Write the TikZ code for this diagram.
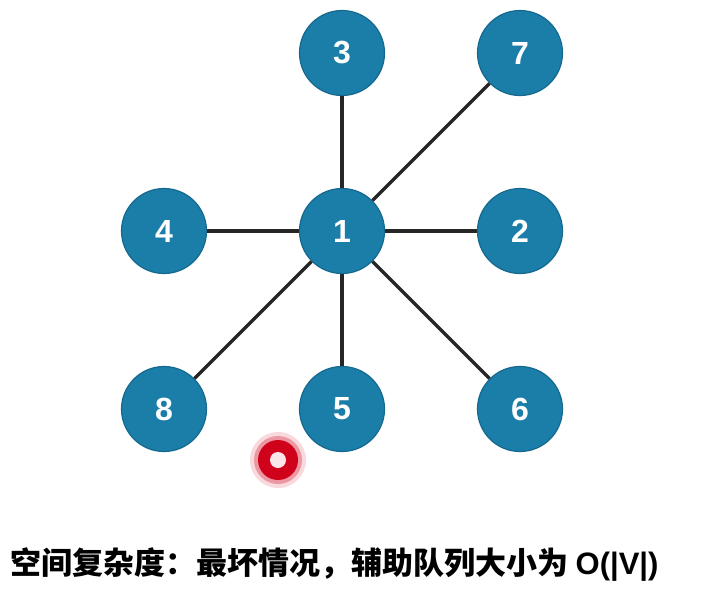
\documentclass[tikz,border=0pt]{standalone}
\usepackage{fontspec}
\setmainfont{Liberation Sans}
\newfontfamily\cjk{Noto Sans CJK SC}
\definecolor{nodeblue}{HTML}{1A7EA9}
\definecolor{nodeedge}{HTML}{15688E}
\definecolor{markred}{HTML}{D0021B}

\begin{document}
\begin{tikzpicture}[x=1pt,y=-1pt,-,node distance=178pt,line width=3.2pt,main node/.style={circle,fill=nodeblue,draw=nodeedge,line width=1.2pt,minimum size=85pt,inner sep=0pt,text=white,font=\fontsize{32}{32}\selectfont\bfseries}]
                \useasboundingbox (0,0) rectangle (715,595);
                \node[main node] (1) at (342,231) {1};
                \node[main node] (3) [above of=1] {3};
                \node[main node] (4) [left of=1] {4};
                \node[main node] (2) [right of=1] {2};
                \node[main node] (5) [below of=1] {5};
                \node[main node] (7) [right of=3] {7};
                \node[main node] (8) [left of=5] {8};
                \node[main node] (6) [right of=5] {6};

                \path[draw=black!85,line width=3.2pt]
                    (1) edge (3)
                    (1) edge (7)
                    (1) edge (4)
                    (1) edge (2)
                    (1) edge (8)
                    (1) edge (5)
                    (1) edge (6)
                    ;

                % pointer mark
                \fill[markred,opacity=0.15] (278,460) circle (28);
                \fill[markred,opacity=0.3] (278,460) circle (24);
                \fill[markred] (278,460) circle (20);
                \fill[white!90!markred] (278,460) circle (8);

                \node[anchor=west,inner sep=0pt] (caption) at (9,565) {\cjk\bfseries\fontsize{31}{31}\selectfont 空间复杂度：最坏情况，辅助队列大小为 {\rmfamily O(|V|)}};
            \end{tikzpicture}
\end{document}
